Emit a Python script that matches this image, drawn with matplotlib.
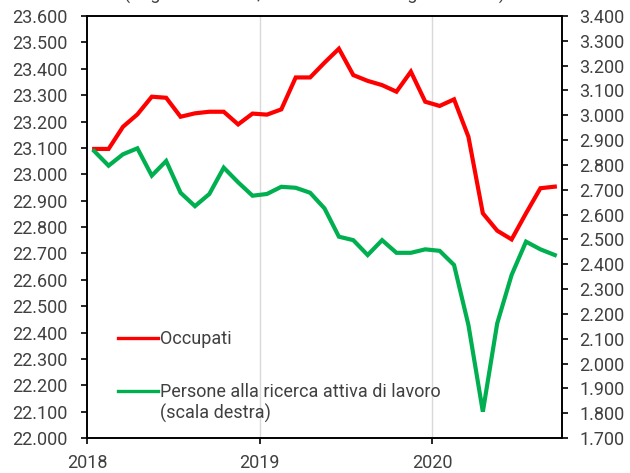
import matplotlib
matplotlib.use("Agg")
import matplotlib.pyplot as plt
import numpy as np
from matplotlib.lines import Line2D

plt.rcParams['font.family'] = ['Roboto', 'DejaVu Sans']
plt.rcParams['font.size'] = 13

# Monthly data, Jan 2018 - Sep 2020 (thousands)
occupati = [23096, 23096, 23180, 23227, 23294, 23290, 23218, 23231, 23237, 23237, 23189, 23230,
            23226, 23246, 23367, 23367, 23423, 23476, 23376, 23354, 23338, 23313, 23389, 23275,
            23259, 23284, 23142, 22852, 22786, 22753, 22852, 22947, 22953]
disoccupati = [2856, 2797, 2843, 2867, 2757, 2816, 2688, 2634, 2683, 2789, 2730, 2676,
               2683, 2712, 2708, 2688, 2625, 2511, 2497, 2437, 2497, 2446, 2446, 2460,
               2454, 2397, 2155, 1806, 2162, 2357, 2491, 2460, 2437]
start_year = 2018
year_ticks = [2018, 2019, 2020]
left_ticks = np.arange(22000, 23601, 100)
right_ticks = np.arange(1700, 3401, 100)
title = "(migliaia di unità, dati mensili destagionalizzati)"
label_occ = "Occupati"
label_dis = "Persone alla ricerca attiva di lavoro"
label_dis2 = "(scala destra)"

x = start_year + (np.arange(len(occupati)) + 0.5) / 12.0

fig = plt.figure(figsize=(6.3, 4.73), dpi=100)
ax = fig.add_axes([87/630, 35/473, 475/630, 422/473])
ax2 = ax.twinx()

red = '#FF0000'
green = '#00B050'
txt = '#404040'

ax.plot(x, occupati, color=red, lw=3.0, solid_joinstyle='miter', zorder=3)
ax2.plot(x, disoccupati, color=green, lw=3.0, solid_joinstyle='miter', zorder=3)

ax.set_xlim(2018, 2020.75)
ax.set_ylim(22000, 23600)
ax2.set_ylim(1700, 3400)

ax.set_xticks(year_ticks)
ax.set_xticklabels([str(y) for y in year_ticks])
ax.set_yticks(left_ticks)
ax.set_yticklabels([f"{v/1000:.3f}" for v in left_ticks])
ax2.set_yticks(right_ticks)
ax2.set_yticklabels([f"{v/1000:.3f}" for v in right_ticks])

for y in year_ticks[1:]:
    ax.axvline(y, color='#D9D9D9', lw=1, zorder=1)

for a in (ax, ax2):
    for s in a.spines.values():
        s.set_color('black')
        s.set_linewidth(1.2)
ax.tick_params(axis='y', direction='out', length=4.3, width=1.2, colors='black',
               labelcolor=txt, labelsize=13, pad=9.5)
ax.tick_params(axis='x', direction='out', length=4.3, width=1.2, colors='black',
               labelcolor=txt, labelsize=13, pad=7)
ax2.tick_params(axis='y', direction='out', length=4.3, width=1.2, colors='black',
                labelcolor=txt, labelsize=13, pad=8)

handles = [Line2D([], [], color=red, lw=2.4), Line2D([], [], color=green, lw=2.4)]
leg = ax.legend(handles, [label_occ, label_dis], loc='upper left',
                bbox_to_anchor=((118-87)/475, (438-330)/422), frameon=False,
                borderpad=0, borderaxespad=0, handlelength=2.2, handletextpad=0.12,
                labelspacing=1.95, fontsize=13)
for t in leg.get_texts():
    t.set_color(txt)
ax.text((160-87)/475, (438-413)/422, label_dis2, transform=ax.transAxes,
        ha='left', va='center', fontsize=13, color=txt)

fig.text(0.5, 1 - 0/473, title, ha='center', va='baseline', fontsize=13, color=txt)

fig.savefig('out.png', dpi=100)
